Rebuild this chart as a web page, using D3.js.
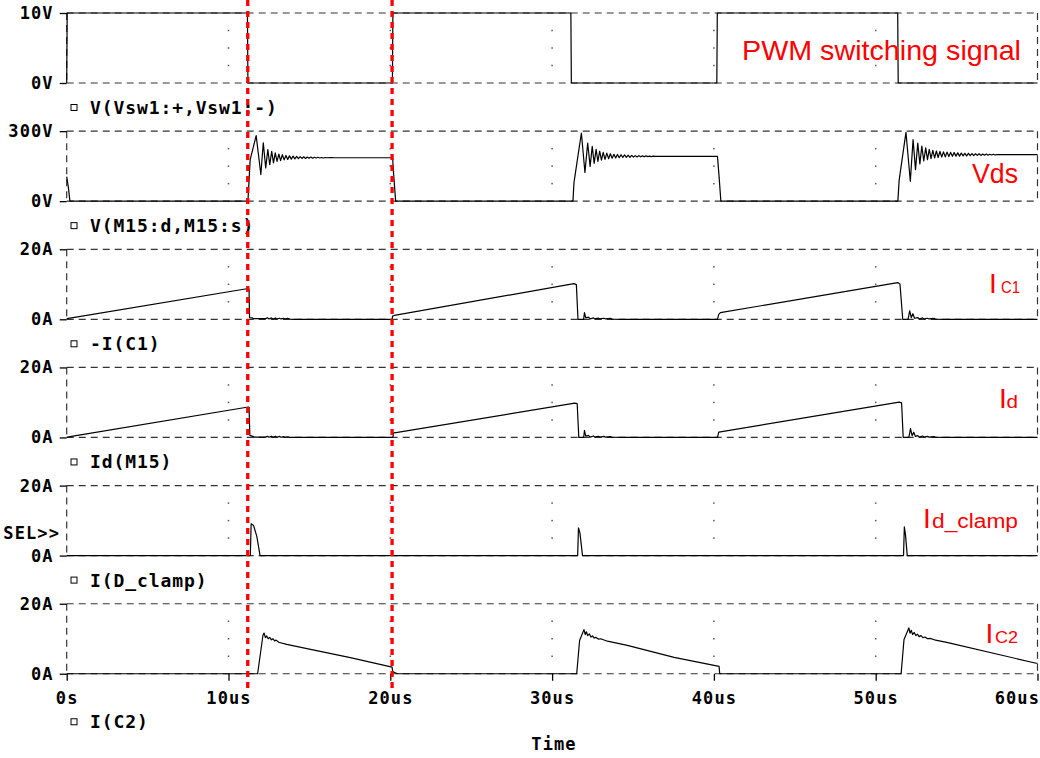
<!DOCTYPE html>
<html>
<head>
<meta charset="utf-8">
<script src="https://cdn.jsdelivr.net/npm/d3@7"></script>
<style>
  html, body { margin: 0; padding: 0; background: #fff; }
  svg { display: block; }
  .mono { font-family: "DejaVu Sans Mono", "Liberation Mono", monospace; font-weight: bold; }
  .ann { font-family: "Liberation Sans", Arial, sans-serif; fill: #ff0000; }
</style>
</head>
<body>
<div id="chart"></div>
<script>
// ---- data (time in us) ----
var legendNames = ["V(Vsw1:+,Vsw1:-)", "V(M15:d,M15:s)", "-I(C1)", "Id(M15)", "I(D_clamp)", "I(C2)"];
var yMaxValues = [10, 300, 20, 20, 20, 20];
var yTickLabels = [["0V", "10V"], ["0V", "300V"], ["0A", "20A"], ["0A", "20A"], ["0A", "20A"], ["0A", "20A"]];
var xTickValues = [0, 10, 20, 30, 40, 50, 60];
var xTickLabels = ["0s", "10us", "20us", "30us", "40us", "50us", "60us"];
var gridTimes = [10, 20, 30, 40, 50];
var markerTimes = [11.19, 20.11];
var annMain = ["PWM switching signal", "Vds", "I", "I", "I", "I"];
var annSub = ["", "", "C1", "d", "d_clamp", "C2"];

var pwmPts = [[0,0],[0.03,10],[11.17,10],[11.2,0],[20.13,0],[20.16,10],[31.16,10],[31.19,0],
  [40.18,0],[40.21,10],[51.36,10],[51.39,0],[60,0]];

var vdsPts = [[0,105],[0.1,60],[0.2,0],[11.2,0],[11.34,178],[11.71,281],
  [12.0,114],[12.15,250],[12.3,142],[12.43,221],[12.55,156],[12.67,213],[12.78,164],[12.89,207],
  [13.0,170],[13.11,202],[13.22,174],[13.33,199],[13.44,177],[13.55,196],[13.66,179],[13.77,194],
  [13.88,180],[13.99,193],[14.1,181],[14.21,192],[14.32,182],[14.43,191],[14.54,183],[14.65,190],
  [14.76,183],[14.87,189],[14.98,184],[15.09,189],[15.2,184],[15.31,188],[15.42,185],[15.53,188],
  [15.64,185],[15.75,187],[15.86,185],[15.97,187],[16.08,186],[16.3,187],[16.6,186],
  [20.15,186],[20.17,150],[20.33,0],
  [31.29,0],[31.35,78],[31.81,292],
  [32.03,123],[32.2,249],[32.35,149],[32.48,235],[32.6,162],[32.72,222],[32.83,170],[32.94,214],
  [33.05,176],[33.16,209],[33.27,179],[33.38,206],[33.49,182],[33.6,203],[33.71,184],[33.82,201],
  [33.93,185],[34.04,200],[34.15,186],[34.26,199],[34.37,187],[34.48,198],[34.59,188],[34.7,197],
  [34.81,188],[34.92,196],[35.03,189],[35.14,195],[35.25,189],[35.36,195],[35.47,190],[35.58,194],
  [35.69,190],[35.8,194],[35.91,191],[36.02,193],[36.13,191],[36.24,193],[36.4,192],
  [40.22,192],[40.32,106],[40.43,0],
  [51.37,0],[51.45,90],[51.87,295],
  [52.14,85],[52.31,264],[52.46,135],[52.6,249],[52.73,160],[52.85,236],[52.97,172],[53.09,228],
  [53.2,178],[53.31,222],[53.42,182],[53.53,218],[53.64,185],[53.75,215],[53.86,187],[53.97,213],
  [54.08,189],[54.19,211],[54.3,190],[54.41,210],[54.52,191],[54.63,209],[54.74,192],[54.85,208],
  [54.96,193],[55.07,207],[55.18,193],[55.29,206],[55.4,194],[55.51,205],[55.62,194],[55.73,205],
  [55.84,195],[55.95,204],[56.06,195],[56.17,203],[56.28,196],[56.39,203],[56.5,196],[56.61,202],
  [56.72,197],[56.83,202],[56.94,197],[57.05,201],[57.16,198],[57.27,201],[57.38,198],[57.6,200],
  [58,199],[60,199]];

var ic1Pts = [[0,0.2],[0.3,0.4],[11.22,8.8],[11.27,8.6],[11.3,0.5],[11.45,0.4],[11.55,0.2],[12.3,0.2],
  [12.4,0.45],[12.5,0.1],[12.65,0.4],[12.75,0.1],[12.9,0.35],[13.0,0.1],[13.15,0.3],[13.25,0.1],
  [13.4,0.3],[13.5,0.1],[13.65,0.25],[13.8,0.05],[14.0,0],
  [20.11,0],[20.14,0.9],[20.25,1.1],[31.35,10.2],[31.5,9.9],[31.6,0],[31.95,0],[32.0,1.9],
  [32.08,0.4],[32.25,0.6],[32.35,0.1],[32.55,0.4],[32.65,0.1],[32.85,0.35],[32.95,0.1],[33.2,0.3],
  [33.3,0.1],[33.6,0.25],[33.7,0.05],[34.3,0],
  [40.22,0],[40.3,1.4],[40.4,1.9],[51.36,10.5],[51.5,10.1],[51.67,0],[52.0,0],[52.1,2.4],
  [52.2,0.5],[52.3,1.6],[52.4,0.3],[52.6,0.5],[52.7,0.1],[52.9,0.4],[53.0,0.1],[53.2,0.3],
  [53.3,0.1],[53.6,0.25],[53.7,0.05],[54.2,0],[60,0]];

var idPts = [[0,0],[0.3,0.3],[11.22,8.7],[11.27,8.6],[11.32,0.6],[11.5,0.3],[11.6,0.1],[12.3,0.1],
  [12.4,0.35],[12.5,0.05],[12.65,0.35],[12.75,0.05],[12.9,0.3],[13.0,0.05],[13.15,0.3],[13.25,0.05],
  [13.4,0.25],[13.5,0.05],[13.65,0.2],[13.8,0],
  [20.16,0],[20.2,1.3],[20.35,1.4],[31.4,9.8],[31.55,9.7],[31.65,0],[31.95,0],[32.0,2.0],
  [32.08,0.4],[32.25,0.6],[32.35,0.1],[32.55,0.4],[32.65,0.1],[32.85,0.35],[32.95,0.1],[33.2,0.3],
  [33.3,0.1],[33.6,0.25],[33.7,0.05],[34.3,0],
  [40.22,0],[40.3,1.5],[40.4,1.6],[51.45,10.1],[51.6,9.9],[51.7,0],[52.05,0],[52.15,2.5],
  [52.25,0.5],[52.35,1.5],[52.45,0.3],[52.6,0.5],[52.7,0.1],[52.9,0.4],[53.0,0.1],[53.2,0.3],
  [53.3,0.1],[53.6,0.25],[53.7,0.05],[54.2,0],[60,0]];

var idClampPts = [[0,0],[11.35,0],[11.4,9.1],[11.55,8.6],[11.75,5.5],[11.95,0],
  [31.58,0],[31.63,7.9],[31.72,6.5],[31.88,0],
  [51.72,0],[51.77,8.2],[51.84,6],[51.95,0],[60,0]];

var ic2Pts = [[0,0],[11.8,0],[12.13,11],[12.2,11.6],[12.28,10.3],[12.36,10.8],[12.45,10],[12.55,10.4],
  [12.65,9.7],[12.75,10.0],[12.85,9.4],[12.95,9.6],[13.1,9.0],[13.6,8.4],[14.85,7.2],[17.53,4.6],
  [20.11,1.9],[20.15,0.6],[20.3,0.3],[20.45,0],
  [31.52,0],[31.7,9.5],[31.97,12.6],[32.05,11.2],[32.12,12],[32.2,10.9],[32.3,11.4],[32.4,10.5],
  [32.5,10.8],[32.6,10.2],[32.7,10.4],[32.85,9.9],[33.0,10.0],[33.42,9.3],[34.65,8.1],[37.54,4.7],
  [40.32,2.1],[40.36,0],
  [51.57,0],[51.75,9.8],[52.05,13.1],[52.12,11.6],[52.2,12.4],[52.28,11.2],[52.38,11.8],[52.48,10.9],
  [52.58,11.3],[52.68,10.6],[52.8,10.9],[52.92,10.3],[53.05,10.5],[53.2,10.0],[53.35,10.1],
  [53.63,9.7],[54.46,8.9],[59.92,3.0],[60,3.0]];

var seriesData = [pwmPts, vdsPts, ic1Pts, idPts, idClampPts, ic2Pts];

// ---- layout ----
var W = 1040, H = 758;
var top0 = 13, pitch = 118.15, panelH = 70;
var xLeft = 66.7, xRight = 1037.5;
var gridColor = "#333";

var svg = d3.select("#chart").append("svg")
  .attr("width", W)
  .attr("height", H);

svg.append("rect").attr("width", W).attr("height", H).attr("fill", "#fff");

var x = d3.scaleLinear().domain([0, 60]).range([xLeft, xRight]);

var line = d3.line();

seriesData.forEach(function(pts, i) {
  var top = top0 + i * pitch;
  var bottom = top + panelH;
  var y = d3.scaleLinear().domain([0, yMaxValues[i]]).range([bottom, top]);
  var g = svg.append("g").attr("class", "panel");

  // dashed frame lines
  [top, bottom].forEach(function(yy) {
    g.append("line")
      .attr("x1", xLeft).attr("x2", xRight)
      .attr("y1", yy).attr("y2", yy)
      .attr("stroke", gridColor)
      .attr("stroke-width", 1.2)
      .attr("stroke-dasharray", "7,5");
  });
  [xLeft, xRight].forEach(function(xx) {
    g.append("line")
      .attr("x1", xx).attr("x2", xx)
      .attr("y1", top).attr("y2", bottom)
      .attr("stroke", gridColor)
      .attr("stroke-width", 1.2)
      .attr("stroke-dasharray", "7,5");
  });

  // dotted vertical grid
  gridTimes.forEach(function(t) {
    g.selectAll(null)
      .data([0.25, 0.5, 0.75])
      .enter()
      .append("rect")
      .attr("x", x(t) - 0.75)
      .attr("y", function(f) { return top + f * panelH - 0.75; })
      .attr("width", 1.5)
      .attr("height", 1.5)
      .attr("fill", "#555");
  });

  // left axis
  var axis = d3.axisLeft(y)
    .tickValues([0, yMaxValues[i]])
    .tickSize(7)
    .tickPadding(6)
    .tickFormat(function(d, k) { return yTickLabels[i][k]; });
  var ag = g.append("g")
    .attr("transform", "translate(" + xLeft + ",0)")
    .call(axis);
  ag.select(".domain").remove();
  ag.selectAll(".tick line").attr("stroke", "#000").attr("stroke-width", 1.3);
  ag.selectAll(".tick text")
    .attr("class", "mono")
    .attr("font-size", 17)
    .attr("letter-spacing", 1.1)
    .attr("fill", "#000");

  // trace
  g.append("path")
    .datum(pts)
    .attr("d", line.x(function(d) { return x(d[0]); }).y(function(d) { return y(d[1]); }))
    .attr("fill", "none")
    .attr("stroke", "#000")
    .attr("stroke-width", 1.2)
    .attr("stroke-linejoin", "round");

  // legend
  var legY = bottom + (i === 5 ? 48 : 24.5);
  g.append("rect")
    .attr("x", 71).attr("y", legY - 3)
    .attr("width", 6).attr("height", 6)
    .attr("fill", "none")
    .attr("stroke", "#000")
    .attr("stroke-width", 1);
  g.append("text")
    .attr("class", "mono")
    .attr("x", 90).attr("y", legY)
    .attr("dominant-baseline", "central")
    .attr("font-size", 18)
    .attr("letter-spacing", 0.9)
    .text(legendNames[i]);

  // bottom time axis on last panel
  if (i === seriesData.length - 1) {
    var xa = d3.axisBottom(x)
      .tickValues(xTickValues)
      .tickSize(7)
      .tickPadding(11)
      .tickFormat(function(d, k) { return xTickLabels[k]; });
    var xg = g.append("g")
      .attr("transform", "translate(0," + bottom + ")")
      .call(xa);
    xg.select(".domain").remove();
    xg.selectAll(".tick line").attr("stroke", "#000").attr("stroke-width", 1.3);
    xg.selectAll(".tick text")
      .attr("class", "mono")
      .attr("font-size", 17)
      .attr("letter-spacing", 1.1)
      .attr("fill", "#000");
    xg.selectAll(".tick").filter(function(d) { return d === 60; })
      .select("text")
      .attr("text-anchor", "end")
      .attr("x", 2);
  }
});

// SEL>> marker
svg.append("text")
  .attr("class", "mono")
  .attr("x", 60).attr("y", 533)
  .attr("text-anchor", "end")
  .attr("dominant-baseline", "central")
  .attr("font-size", 17)
  .attr("letter-spacing", 1.1)
  .text("SEL>>");

// axis title
svg.append("text")
  .attr("class", "mono")
  .attr("x", 554).attr("y", 744)
  .attr("text-anchor", "middle")
  .attr("dominant-baseline", "central")
  .attr("font-size", 17)
  .attr("letter-spacing", 1.1)
  .text("Time");

// red marker lines
svg.selectAll(".marker")
  .data(markerTimes)
  .enter()
  .append("line")
  .attr("class", "marker")
  .attr("x1", function(d) { return x(d); })
  .attr("x2", function(d) { return x(d); })
  .attr("y1", 0).attr("y2", 690)
  .attr("stroke", "#ff0000")
  .attr("stroke-width", 3.3)
  .attr("stroke-dasharray", "6,5");

// red annotations
var annPos = [
  { x: 742, y: 60, size: 28, len: 279 },
  { x: 972, y: 183, size: 27, len: 46 },
  { x: 989, y: 293, size: 28, sx: 1001, ssize: 16, slen: 19 },
  { x: 999, y: 408, size: 28, sx: 1006.5, ssize: 18, slen: 11.5 },
  { x: 923, y: 528, size: 28, sx: 932, ssize: 20, slen: 86 },
  { x: 985.5, y: 643, size: 28, sx: 995, ssize: 16, slen: 23 }
];
annMain.forEach(function(txt, i) {
  var p = annPos[i];
  var t = svg.append("text")
    .attr("class", "ann")
    .attr("x", p.x).attr("y", p.y)
    .attr("font-size", p.size)
    .text(txt);
  if (p.len) t.attr("textLength", p.len).attr("lengthAdjust", "spacingAndGlyphs");
  if (annSub[i]) {
    svg.append("text")
      .attr("class", "ann")
      .attr("x", p.sx).attr("y", p.y)
      .attr("font-size", p.ssize)
      .attr("textLength", p.slen)
      .attr("lengthAdjust", "spacingAndGlyphs")
      .text(annSub[i]);
  }
});
</script>
</body>
</html>
